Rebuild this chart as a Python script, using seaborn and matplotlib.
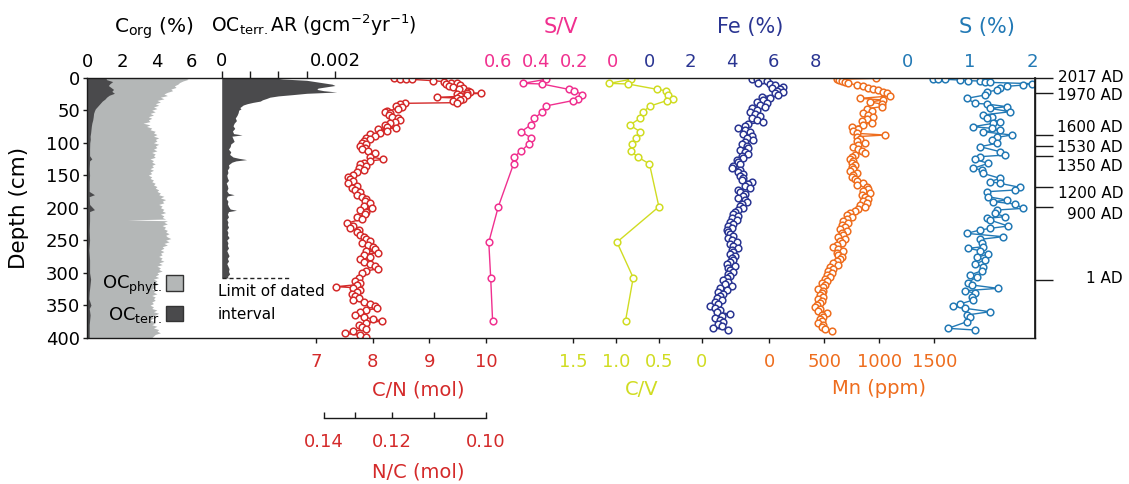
import matplotlib
matplotlib.use("Agg")
import matplotlib.pyplot as plt
import matplotlib.transforms as mtransforms
from matplotlib.patches import Patch
import seaborn as sns

# ---------------------------------------------------------------- data
corg_depth = [0, 2.5, 5, 7.5, 10, 12.5, 15, 17.5, 20, 22.5, 25, 27.5, 30, 32.5, 35, 37.5, 40, 42.5, 45, 47.5,
              50, 52.5, 55, 57.5, 60, 62.5, 65, 67.5, 70, 72.5, 75, 77.5, 80, 82.5, 85, 87.5, 90, 92.5, 95, 97.5,
              100, 102.5, 105, 107.5, 110, 112.5, 115, 117.5, 120, 122.5, 125, 127.5, 130, 132.5, 135, 137.5,
              140, 142.5, 145, 147.5, 150, 152.5, 155, 157.5, 160, 162.5, 165, 167.5, 170, 172.5, 175, 177.5,
              180, 182.5, 185, 187.5, 190, 192.5, 195, 197.5, 200, 202.5, 205, 207.5, 210, 212.5, 215, 217.5,
              218.8, 220, 222.5, 225, 227.5, 230, 232.5, 235, 237.5, 240, 242.5, 245, 247.5, 250, 252.5, 255,
              257.5, 260, 262.5, 265, 267.5, 270, 272.5, 275, 277.5, 280, 282.5, 285, 287.5, 290, 292.5, 295,
              297.5, 300, 302.5, 305, 307.5, 310, 312.5, 315, 317.5, 320, 322.5, 325, 327.5, 330, 332.5, 335,
              337.5, 340, 342.5, 345, 347.5, 350, 352.5, 355, 357.5, 360, 362.5, 365, 367.5, 370, 372.5, 375,
              377.5, 380, 382.5, 385, 387.5, 390, 392.5, 395, 397.5, 400]
corg_total = [5.6, 5.8, 5.5, 5.3, 5.2, 5.0, 5.1, 4.8, 4.9, 4.6, 4.4, 4.6, 4.2, 4.4, 4.0, 4.2, 3.9, 4.1, 3.8, 4.0,
              3.7, 3.9, 3.6, 3.8, 3.5, 3.7, 3.5, 3.6, 3.2, 3.6, 3.4, 3.7, 3.6, 3.9, 3.8, 4.0, 3.8, 4.1, 3.9, 4.0,
              3.8, 4.1, 3.9, 4.0, 3.8, 4.0, 3.7, 3.9, 3.8, 3.9, 3.6, 3.8, 3.7, 3.9, 3.7, 3.8,
              3.6, 3.8, 3.6, 3.7, 3.5, 3.7, 3.6, 3.8, 3.7, 3.9, 3.8, 4.0, 3.9, 4.1, 4.0, 4.2,
              4.1, 4.4, 4.2, 4.5, 4.3, 4.4, 4.1, 4.3, 4.2, 4.4, 4.3, 4.5, 4.2, 4.4, 4.3, 4.5,
              2.3, 4.6, 4.4, 4.6, 4.3, 4.5, 4.4, 4.6, 4.5, 4.7, 4.5, 4.6, 4.8, 4.5, 4.7, 4.4,
              4.6, 4.3, 4.4, 4.2, 4.4, 4.2, 4.3, 4.1, 4.3, 4.2, 4.4, 4.1, 4.3, 4.0, 4.2, 4.1,
              4.3, 4.0, 4.1, 3.9, 4.1, 3.8, 4.0, 3.9, 4.1, 3.8, 3.9, 3.7, 3.9, 3.8, 4.0, 3.7,
              3.9, 3.8, 3.9, 3.7, 3.8, 3.6, 3.8, 3.7, 4.0, 3.8, 4.1, 3.9, 3.7, 3.8, 3.6, 3.8,
              3.9, 3.7, 4.0, 3.8, 4.1, 4.0, 4.2, 3.9, 3.8, 3.7]
octerr_depth = [0, 3, 6, 9, 12, 15, 18, 21, 24, 27, 30, 33, 36, 39, 42, 45, 48, 51, 55, 60, 65, 70, 75, 80,
                85, 90, 95, 100, 110, 120, 125, 128, 140, 150, 160, 175, 180, 183, 195, 203, 206, 220, 235,
                250, 265, 280, 300, 310, 330, 340, 350, 355, 365, 380, 400]
octerr_pct = [1.05, 1.10, 1.45, 1.30, 1.20, 1.35, 1.50, 1.40, 1.55, 1.25, 1.10, 1.00, 0.85, 0.75, 0.65, 0.55,
              0.45, 0.40, 0.35, 0.33, 0.30, 0.25, 0.22, 0.20, 0.18, 0.15, 0.16, 0.13, 0.12, 0.12, 0.25, 0.12,
              0.10, 0.12, 0.10, 0.10, 0.40, 0.10, 0.12, 0.40, 0.12, 0.12, 0.10, 0.12, 0.08, 0.12, 0.12, 0.18,
              0.10, 0.08, 0.20, 0.10, 0.15, 0.10, 0.10]
ar_depth = [0, 2, 4, 6, 8, 10, 12, 14, 16, 18, 20, 22, 24, 26, 28, 30, 32, 34, 36, 38, 40, 42, 44, 46, 48, 50,
            54, 58, 62, 66, 70, 74, 78, 82, 86, 88, 90, 94, 98, 102, 106, 110, 114, 118, 122, 124, 126, 128,
            130, 134, 138, 142, 146, 150, 154, 158, 162, 166, 170, 174, 178, 180, 182, 186, 190, 194, 198,
            202, 204, 206, 210, 214, 218, 222, 226, 230, 234, 238, 242, 246, 250, 254, 258, 262, 266, 270,
            274, 278, 282, 286, 290, 294, 298, 302, 306, 308]
ar_values = [0.00090, 0.00108, 0.00150, 0.00165, 0.00180, 0.00195, 0.00200, 0.00185, 0.00170, 0.00168,
             0.00180, 0.00203, 0.00150, 0.00126, 0.00100, 0.00085, 0.00079, 0.00072, 0.00068, 0.00055,
             0.00045, 0.00038, 0.00035, 0.00032, 0.00034, 0.00030, 0.00029, 0.00027, 0.00024, 0.00026,
             0.00022, 0.00020, 0.00023, 0.00019, 0.00021, 0.00036, 0.00018, 0.00020, 0.00022, 0.00016,
             0.00015, 0.00012, 0.00016, 0.00014, 0.00020, 0.00030, 0.00044, 0.00025, 0.00018, 0.00012,
             0.00013, 0.00010, 0.00011, 0.00009, 0.00010, 0.00012, 0.00008, 0.00010, 0.00011, 0.00009,
             0.00012, 0.00022, 0.00010, 0.00008, 0.00011, 0.00010, 0.00012, 0.00015, 0.00026, 0.00012,
             0.00010, 0.00012, 0.00009, 0.00011, 0.00010, 0.00012, 0.00009, 0.00011, 0.00010, 0.00013,
             0.00009, 0.00011, 0.00010, 0.00012, 0.00009, 0.00011, 0.00013, 0.00010, 0.00012, 0.00009,
             0.00011, 0.00013, 0.00012, 0.00014, 0.00010, 0.00012]
limit_depth = 308

cn_depth = [1.0, 1.5, 2.0, 2.5, 4.6, 6.1, 7.6, 8.7, 9.7, 11.2, 12.8, 14.8, 16.4, 17.9, 20.0, 21.5, 23.0, 24.1,
            25.6, 27.1, 28.7, 30.2, 31.2, 32.8, 34.3, 36.4, 38.4, 39.4, 40.5, 43.0, 45.6, 48.2, 50.7, 52.8,
            54.8, 57.4, 60.0, 62.5, 65.1, 67.6, 70.2, 72.8, 75.3, 77.4, 79.4, 82.0, 84.6, 87.1, 89.7, 92.3,
            94.8, 97.4, 100.0, 102.5, 105.1, 107.6, 110.2, 112.8, 116.4, 121.5, 125.6, 128.2, 130.7, 133.3,
            135.8, 138.4, 142.0, 145.6, 149.7, 153.3, 156.4, 159.4, 162.5, 166.1, 169.7, 172.8, 176.4, 180.5,
            184.0, 187.1, 190.2, 193.3, 196.9, 200.5, 203.5, 206.6, 210.2, 213.8, 217.4, 224.0, 227.6, 230.7,
            234.3, 237.9, 242.0, 245.1, 248.1, 251.2, 254.3, 257.4, 259.9, 263.0, 266.1, 269.2, 272.2, 275.3,
            278.9, 283.0, 286.6, 290.2, 293.8, 297.4, 301.0, 308.7, 312.3, 315.3, 318.4, 321.5, 323.0, 326.6,
            329.7, 332.8, 335.8, 338.9, 342.0, 345.6, 348.7, 351.7, 354.8, 357.9, 361.0, 365.1, 368.1, 371.2,
            374.3, 377.4, 380.5, 384.0, 387.1, 390.2, 393.3, 396.3, 398.5]
cn_values = [8.38, 8.48, 8.59, 8.69, 9.07, 9.26, 9.39, 9.48, 9.29, 9.54,
             9.34, 9.42, 9.60, 9.53, 9.69, 9.72, 9.66, 9.92, 9.48, 9.66,
             9.54, 9.13, 9.48, 9.60, 9.54, 9.42, 9.48, 8.57, 8.48, 8.42,
             8.51, 8.45, 8.25, 8.22, 8.31, 8.28, 8.34, 8.45, 8.48, 8.39,
             8.31, 8.22, 8.25, 8.42, 8.10, 8.25, 8.13, 7.95, 8.04, 7.89,
             7.95, 7.84, 7.81, 7.89, 7.78, 7.86, 7.81, 7.92, 8.04, 7.95,
             8.19, 7.95, 7.84, 7.78, 7.89, 7.75, 7.84, 7.72, 7.66, 7.57,
             7.60, 7.66, 7.57, 7.72, 7.63, 7.69, 7.78, 7.72, 7.81, 7.89,
             7.86, 7.95, 7.84, 7.98, 7.78, 7.89, 7.86, 7.72, 7.81, 7.54,
             7.66, 7.60, 7.75, 7.72, 7.78, 7.84, 7.89, 7.95, 7.81, 7.92,
             8.01, 8.04, 7.89, 8.10, 7.84, 7.95, 7.78, 7.84, 7.95, 8.04,
             8.10, 7.89, 7.81, 7.75, 7.69, 7.78, 7.72, 7.36, 7.66, 7.78,
             7.72, 7.63, 7.69, 7.75, 7.66, 7.84, 7.95, 8.04, 8.07, 7.89,
             7.78, 7.69, 7.84, 8.01, 8.16, 7.89, 7.75, 7.81, 7.89, 7.66,
             7.51, 7.78, 7.89]

v_depth = [2.5, 8.7, 9.7, 17.9, 20.0, 26.0, 33.3, 35.3, 43.5, 52.8, 62.5, 72.8, 83.0, 92.2, 102.0, 112.8,
           122.5, 132.8, 198.5, 253.0, 307.7, 374.0]
sv_values = [0.35, 0.47, 0.37, 0.23, 0.20, 0.16, 0.18, 0.21, 0.35, 0.37, 0.41, 0.43, 0.48, 0.43, 0.44, 0.48,
             0.52, 0.52, 0.60, 0.65, 0.64, 0.63]
cv_values = [0.83, 1.08, 0.86, 0.52, 0.42, 0.39, 0.34, 0.41, 0.60, 0.69, 0.72, 0.84, 0.72, 0.77, 0.82, 0.83,
             0.74, 0.61, 0.50, 0.99, 0.80, 0.89]

fe_depth = [1.5, 2.5, 3.6, 5.6, 7.7, 9.7, 11.8, 13.8, 15.9, 17.9, 20.0, 22.0, 24.1, 26.6, 29.2, 31.8, 34.3,
            36.9, 39.5, 42.0, 44.6, 47.2, 49.7, 52.8, 55.9, 59.0, 62.0, 65.1, 68.2, 71.3, 74.3, 77.4, 80.5,
            83.6, 86.6, 89.7, 92.8, 95.9, 98.9, 102.0, 105.1, 108.2, 111.3, 114.3, 117.4, 120.5, 123.6, 126.6,
            129.7, 132.8, 135.9, 138.9, 142.0, 145.1, 148.2, 151.3, 154.3, 157.4, 160.5, 163.6, 166.6, 169.7,
            172.8, 175.9, 178.9, 182.0, 185.1, 188.2, 191.3, 194.3, 197.4, 200.5, 203.6, 206.6, 209.7, 212.8,
            215.9, 218.9, 222.0, 225.1, 228.2, 231.3, 234.3, 237.4, 240.5, 243.6, 246.6, 249.7, 252.8, 255.9,
            258.9, 262.0, 265.1, 268.2, 271.3, 274.3, 277.4, 280.5, 283.6, 286.6, 289.7, 292.8, 295.9, 298.9,
            302.0, 305.1, 308.2, 311.3, 314.3, 317.4, 320.5, 323.6, 326.6, 329.7, 332.8, 335.9, 338.9, 342.0,
            345.1, 348.2, 351.3, 354.3, 357.4, 360.5, 363.6, 366.6, 369.7, 372.8, 375.9, 378.9, 382.0, 385.1,
            388.2]
fe_values = [4.94, 5.18, 5.42, 5.66, 5.26, 5.82, 6.07, 6.47, 5.91, 6.31,
             6.15, 6.47, 6.07, 6.23, 5.42, 5.82, 5.50, 5.18, 5.66, 5.34,
             5.58, 4.94, 5.18, 4.86, 5.10, 5.34, 4.94, 5.18, 5.50, 4.78,
             4.62, 4.29, 4.62, 4.86, 4.53, 4.94, 4.70, 5.02, 4.62, 4.45,
             4.70, 4.78, 4.37, 4.62, 4.78, 4.45, 4.53, 4.21, 4.29, 4.37,
             4.05, 3.97, 4.37, 4.29, 4.53, 4.37, 4.53, 4.45, 4.94, 4.78,
             4.62, 4.86, 4.29, 4.37, 4.62, 4.53, 4.29, 4.62, 4.70, 4.45,
             4.37, 4.53, 4.29, 4.13, 4.05, 4.29, 3.97, 4.21, 3.89, 4.05,
             3.81, 3.97, 3.73, 3.81, 3.89, 4.05, 3.81, 3.97, 4.21, 3.89,
             4.05, 4.29, 3.97, 4.05, 3.89, 4.13, 3.97, 4.05, 3.89, 3.73,
             4.13, 3.81, 3.89, 4.05, 3.81, 3.89, 3.73, 3.57, 3.81, 3.65,
             3.97, 3.41, 3.73, 3.33, 3.57, 3.41, 3.25, 3.49, 3.17, 3.33,
             2.92, 3.17, 3.41, 3.25, 3.89, 3.49, 3.17, 3.41, 3.57, 3.33,
             3.49, 3.09, 3.81]

mn_depth = [1.0, 2.5, 4.1, 5.6, 7.2, 8.7, 11.3, 13.3, 15.4, 17.4,
            19.5, 21.5, 24.1, 28.2, 31.8, 34.3, 37.4, 40.5, 44.6, 47.7,
            50.7, 53.8, 56.9, 60.0, 63.1, 66.1, 69.2, 72.8, 76.4, 79.5,
            82.5, 85.6, 88.2, 90.7, 93.8, 96.9, 100.0, 103.1, 106.1, 109.2,
            112.3, 115.4, 118.4, 121.5, 124.6, 127.7, 130.7, 133.8, 136.9, 140.0,
            143.1, 146.1, 149.2, 152.3, 155.4, 158.4, 161.5, 164.6, 167.7, 170.7,
            173.8, 176.9, 180.0, 183.1, 186.1, 189.2, 192.3, 195.4, 198.4, 201.5,
            204.6, 207.7, 210.7, 213.8, 216.9, 220.0, 223.1, 226.1, 229.2, 232.3,
            235.4, 238.4, 241.5, 244.6, 247.7, 250.7, 253.8, 256.9, 260.0, 263.1,
            266.1, 269.2, 272.3, 275.4, 278.4, 281.5, 284.6, 287.7, 290.7, 293.8,
            296.9, 300.0, 303.1, 306.1, 309.2, 312.3, 315.4, 318.4, 321.5, 324.6,
            327.7, 330.7, 333.8, 336.9, 340.0, 343.1, 346.1, 349.2, 352.3, 355.4,
            358.4, 361.5, 364.6, 367.7, 370.7, 373.8, 376.9, 380.0, 383.1, 386.1,
            389.2]
mn_values = [970, 612, 637, 661, 688, 718, 794, 855, 900, 946,
             991, 1037, 1067, 1097, 825, 1037, 915, 1021, 1021, 885,
             931, 855, 900, 946, 885, 840, 931, 855, 749, 809,
             764, 794, 1052, 794, 825, 794, 870, 809, 764, 809,
             840, 870, 779, 749, 734, 764, 749, 779, 749, 764,
             734, 794, 764, 749, 779, 794, 855, 794, 885, 900,
             855, 915, 840, 870, 900, 855, 885, 825, 870, 809,
             779, 734, 703, 749, 703, 673, 718, 658, 688, 643,
             703, 658, 673, 628, 688, 643, 658, 612, 582, 628,
             673, 612, 628, 658, 643, 612, 582, 628, 552, 582,
             537, 567, 521, 552, 506, 521, 476, 506, 491, 446,
             491, 476, 461, 491, 446, 476, 461, 430, 415, 461,
             446, 521, 476, 491, 461, 476, 446, 491, 476, 506,
             567]

s_depth = [1.5, 2.0, 2.5, 3.6, 4.6, 5.1, 6.1, 7.2, 9.2, 11.3, 13.3, 16.4, 19.0, 22.0, 26.6, 31.8, 39.5, 40.5,
           44.6, 47.2, 52.3, 57.4, 60.0, 62.5, 67.7, 70.2, 75.4, 77.9, 80.5, 83.1, 88.2, 91.8, 95.9, 101.0,
           106.1, 113.8, 119.0, 121.5, 125.6, 131.8, 139.5, 142.0, 147.2, 154.8, 160.0, 162.5, 168.7, 172.8,
           175.4, 183.1, 188.2, 190.7, 194.3, 201.0, 203.6, 208.7, 213.8, 216.4, 219.0, 228.2, 231.8, 234.3,
           239.5, 244.6, 248.7, 253.8, 260.0, 262.5, 266.1, 271.3, 276.4, 280.5, 286.6, 290.7, 296.9, 303.6,
           306.1, 315.4, 318.9, 324.1, 327.7, 331.8, 336.9, 342.0, 348.2, 351.3, 354.8, 360.0, 365.1, 368.7,
           375.4, 385.6, 388.2]
s_values = [0.41, 0.49, 0.60, 0.84, 0.97, 1.16, 1.24, 1.32, 1.99, 1.85, 1.59, 1.48, 1.43, 1.27, 1.24, 0.95,
            1.08, 1.27, 1.59, 1.32, 1.64, 1.21, 1.35, 1.27, 1.48, 1.37, 1.05, 1.35, 1.48, 1.21, 1.67, 1.43,
            1.35, 1.43, 1.16, 1.48, 1.56, 1.16, 1.08, 1.29, 1.05, 1.19, 1.21, 1.48, 1.32, 1.48, 1.80, 1.72,
            1.27, 1.29, 1.59, 1.37, 1.72, 1.85, 1.43, 1.40, 1.56, 1.27, 1.32, 1.61, 1.32, 1.16, 0.95, 1.53,
            1.16, 1.19, 1.21, 0.97, 1.16, 1.29, 1.11, 1.24, 1.08, 1.21, 1.19, 1.00, 1.11, 0.97, 1.03, 1.45,
            0.92, 1.08, 1.03, 1.05, 0.84, 0.73, 0.92, 1.32, 0.95, 1.00, 0.95, 0.65, 1.08]

depth_ticks = [0, 50, 100, 150, 200, 250, 300, 350, 400]
age_labels = ["2017 AD", "1970 AD", "1600 AD", "1530 AD", "1350 AD", "1200 AD", "900 AD", "1 AD"]
age_depth = [0, 23.5, 88, 104.6, 120.5, 168.6, 199.4, 311]
age_label_depth = [-2.9, 25, 74.3, 104.6, 134, 176, 208.6, 307]

# ---------------------------------------------------------------- style
C_CN, C_SV, C_CV = "#d42a2a", "#f0308f", "#d0dc22"
C_FE, C_MN, C_S = "#2a3592", "#ee6d1e", "#2279b5"
C_LIGHT, C_DARK, C_AX = "#b4b7b7", "#4a4a4c", "#1a1a1a"

sns.set_theme(style="white")
plt.rcParams["font.family"] = ["DejaVu Sans"]
plt.rcParams["mathtext.fontset"] = "dejavusans"
plt.rcParams["mathtext.default"] = "regular"
for k in ["text.color", "axes.labelcolor", "xtick.color", "ytick.color", "axes.edgecolor"]:
    plt.rcParams[k] = "black"

W, H = 1129, 484
fig = plt.figure(figsize=(W / 100, H / 100), dpi=100)
X0, X1, YT, YB = 87.0, 1035.0, 77.7, 337.7


def fx(px):
    return px / W


def fy(py):
    return 1 - py / H


ax = fig.add_axes([fx(X0), fy(YB), (X1 - X0) / W, (YB - YT) / H])
ax.set_zorder(10)
ax.patch.set_visible(False)
ax.set_ylim(400, 0)
ax.set_xlim(0, 1)
ax.set_xticks([])
ax.set_yticks(depth_ticks)
ax.tick_params(axis="y", left=True, right=False, direction="out", length=3, width=1.0,
               pad=2, labelsize=13, color=C_AX)
for sp in ax.spines.values():
    sp.set_visible(True)
    sp.set_linewidth(1.0)
    sp.set_color(C_AX)


def twin(cal, side, ticks, labels, color, ticklen=0.0, pad=4.8):
    (v1, p1), (v2, p2) = cal
    b = (p2 - p1) / (v2 - v1)
    t = ax.twiny()
    t.set_zorder(1)
    for sp in t.spines.values():
        sp.set_visible(False)
    lims = (v1 + (X0 - p1) / b, v1 + (X1 - p1) / b)
    t.xaxis.set_ticks_position(side)
    t.set_xticks(ticks, labels=labels)
    t.tick_params(axis="x", top=(side == "top"), bottom=(side == "bottom"),
                  labeltop=(side == "top"), labelbottom=(side == "bottom"),
                  length=ticklen, width=1.0, direction="out", pad=pad,
                  labelsize=13, labelcolor=color, color=C_AX)
    t.set_xlim(*lims)
    return t, lims


def profile(t, lims, x, y, color):
    sns.lineplot(x=x, y=y, ax=t, sort=False, estimator=None, orient="y", color=color,
                 linewidth=1.0, marker="o", markersize=4.8, markerfacecolor="white",
                 markeredgecolor=color, markeredgewidth=1.1, legend=False)
    t.set_xlim(*lims)
    t.set_xlabel("")
    t.set_ylabel("")


# Corg panel
t_corg, l_corg = twin(((0, 87.5), (6, 191.7)), "top", [0, 2, 4, 6], ["0", "2", "4", "6"], "black")
t_corg.fill_betweenx(corg_depth, 0, corg_total, color=C_LIGHT, lw=0)
t_corg.fill_betweenx(octerr_depth, 0, octerr_pct, color=C_DARK, lw=0)
t_corg.set_xlim(*l_corg)
t_corg.legend(handles=[Patch(facecolor=C_LIGHT, edgecolor="#333333", linewidth=1.0),
                       Patch(facecolor=C_DARK, edgecolor="#333333", linewidth=1.0)],
              labels=["OC$_{phyt.}$", "OC$_{terr.}$"], markerfirst=False, frameon=False,
              loc="lower right", bbox_to_anchor=((183 - X0) / (X1 - X0), 0.05),
              handlelength=0.94, handleheight=0.94, handletextpad=0.2, labelspacing=0.42,
              borderpad=0, borderaxespad=0, fontsize=13)

# OC terr accumulation rate
t_ar, l_ar = twin(((0, 221.7), (0.002, 335.0)), "top", [0, 0.0005, 0.001, 0.0015, 0.002],
                  ["0", "", "", "", "0.002"], "black", ticklen=5, pad=0.2)
t_ar.fill_betweenx(ar_depth, 0, ar_values, color=C_DARK, lw=0)
t_ar.axhline(limit_depth, xmin=(222 - X0) / (X1 - X0), xmax=(290 - X0) / (X1 - X0),
             color="#222222", lw=1.0, ls=(0, (3, 2)))
t_ar.set_xlim(*l_ar)

# C/N with N/C secondary scale
t_cn, l_cn = twin(((7, 316.0), (10, 486.0)), "bottom", [7, 8, 9, 10], ["7", "8", "9", "10"], C_CN,
                  ticklen=3.6, pad=7.2)
profile(t_cn, l_cn, cn_values, cn_depth, C_CN)
nc = t_cn.secondary_xaxis((YB - 417.7) / (YB - YT), functions=(lambda v: 1 / v, lambda v: 1 / v))
nc.set_xticks([0.14, 0.13, 0.12, 0.11, 0.10], labels=["0.14", "", "0.12", "", "0.10"])
nc.tick_params(axis="x", direction="in", length=4, width=1.0, pad=11, labelsize=13,
               labelcolor=C_CN, color=C_AX)
nc.spines["bottom"].set_bounds(0.10, 0.14)
nc.spines["bottom"].set_linewidth(1.0)
nc.spines["bottom"].set_color(C_AX)

# S/V
t_sv, l_sv = twin(((0.6, 498.3), (0, 612.5)), "top", [0.6, 0.4, 0.2, 0], ["0.6", "0.4", "0.2", "0"], C_SV)
profile(t_sv, l_sv, sv_values, v_depth, C_SV)

# C/V
t_cv, l_cv = twin(((1.5, 573.3), (0, 701.7)), "bottom", [1.5, 1.0, 0.5, 0], ["1.5", "1.0", "0.5", "0"],
                  C_CV, ticklen=3.6, pad=7.2)
profile(t_cv, l_cv, cv_values, v_depth, C_CV)

# Fe
t_fe, l_fe = twin(((0, 649.5), (8, 815.0)), "top", [0, 2, 4, 6, 8], ["0", "2", "4", "6", "8"], C_FE)
profile(t_fe, l_fe, fe_values, fe_depth, C_FE)

# Mn
t_mn, l_mn = twin(((0, 769.3), (1500, 934.3)), "bottom", [0, 500, 1000, 1500], ["0", "500", "1000", "1500"],
                  C_MN, ticklen=3.6, pad=7.2)
profile(t_mn, l_mn, mn_values, mn_depth, C_MN)

# S
t_s, l_s = twin(((0, 907.5), (2, 1032.5)), "top", [0, 1, 2], ["0", "1", "2"], C_S)
profile(t_s, l_s, s_values, s_depth, C_S)

ax.set_ylim(400, 0)

# age scale on the right
sec = ax.secondary_yaxis("right")
sec.set_yticks(age_depth, labels=[""] * len(age_depth))
sec.tick_params(axis="y", direction="out", length=13, width=1.0, color=C_AX)
sec.spines["right"].set_color(C_AX)
trans = mtransforms.blended_transform_factory(ax.transAxes, ax.transData)
for d, lab in zip(age_label_depth, age_labels):
    ax.text((1123 - X0) / (X1 - X0), d, lab, transform=trans, ha="right", va="center_baseline",
            fontsize=11, clip_on=False)

# titles
fig.text(fx(19.5), fy(207.7), "Depth (cm)", rotation=90, ha="center", va="center", fontsize=15.5)
top_titles = [(154, "C$_{org}$ (%)", "black", 14.5),
              (314, "OC$_{terr.}$AR (gcm$^{-2}$yr$^{-1}$)", "black", 13.5),
              (561, "S/V", C_SV, 15), (750, "Fe (%)", C_FE, 15), (987, "S (%)", C_S, 15)]
for cx, s, c, fs in top_titles:
    fig.text(fx(cx), fy(32.5), s, ha="center", va="baseline", fontsize=fs, color=c)
bottom_titles = [(418, 395, "C/N (mol)", C_CN), (642, 395, "C/V", C_CV), (879, 394, "Mn (ppm)", C_MN),
                 (418, 478, "N/C (mol)", C_CN)]
for cx, by, s, c in bottom_titles:
    fig.text(fx(cx), fy(by), s, ha="center", va="baseline", fontsize=14, color=c)
fig.text(fx(218), fy(284.5), "Limit of dated\ninterval", ha="left", va="top", fontsize=11,
         linespacing=1.6)

fig.savefig("out.png", dpi=100)
